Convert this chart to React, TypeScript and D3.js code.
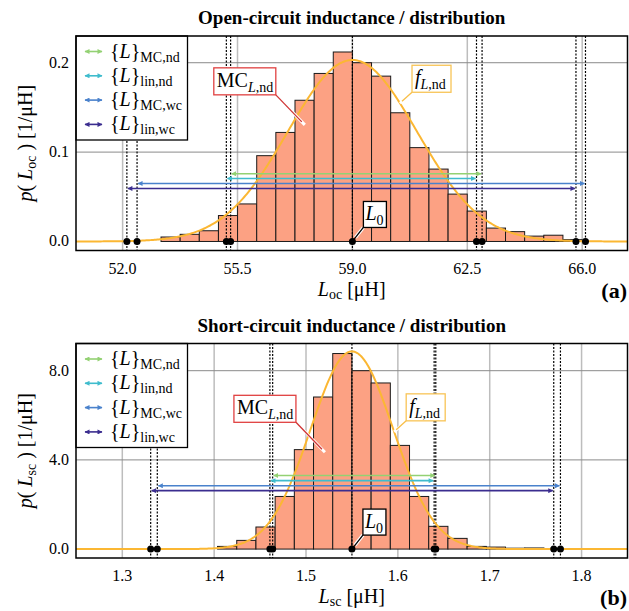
import * as d3 from "d3";

// ---- data ----
// open-circuit inductance histogram (density, 1/uH)
const ocBinStart = 53.17;
const ocBinWidth = 0.583;
const ocDensity = [
  0.005, 0.008, 0.012, 0.029, 0.042, 0.096, 0.122, 0.158, 0.188, 0.212, 0.2,
  0.185, 0.144, 0.105, 0.081, 0.053, 0.034, 0.015, 0.011, 0.006, 0.007, 0.002,
];
// short-circuit inductance histogram
const scBinStart = 1.4037;
const scBinWidth = 0.0209;
const scDensity = [
  0.12, 0.39, 0.99, 2.36, 4.46, 6.82, 8.77, 8.0, 7.45, 4.65, 2.36, 1.02, 0.48,
  0.12, 0.09, 0.04, 0.05,
];

// fitted normal distributions f_L,nd
const ocFit = { mean: 59.0, sd: 1.965 };
const scFit = { mean: 1.55, sd: 0.045 };

const ocL0 = 59.0;
const scL0 = 1.55;

// intervals {L}: MC,nd / lin,nd / MC,wc / lin,wc
const intervalNames = ["MC,nd", "lin,nd", "MC,wc", "lin,wc"];
const ocIntervals = [
  [55.29, 62.95],
  [55.16, 62.78],
  [52.44, 66.1],
  [52.13, 65.81],
];
const scIntervals = [
  [1.4637, 1.6413],
  [1.4607, 1.6395],
  [1.3381, 1.777],
  [1.3309, 1.7697],
];
const ocArrowLevels = [0.0757, 0.0705, 0.0649, 0.0593];
const scArrowLevels = [3.3, 3.07, 2.84, 2.62];

const ocTicksX = [52.0, 55.5, 59.0, 62.5, 66.0];
const ocTicksY = [0.0, 0.1, 0.2];
const scTicksX = [1.3, 1.4, 1.5, 1.6, 1.7, 1.8];
const scTicksY = [0.0, 4.0, 8.0];

const intervalColors = ["#93d173", "#3fbccd", "#4a82cc", "#3b2d8f"];
const FONT = "'Liberation Serif', 'Times New Roman', serif";

const margin = { left: 76, right: 627.5 };
const panelH = 214.5;

function normalPdf(x: number, m: number, s: number) {
  return Math.exp(-((x - m) ** 2) / (2 * s * s)) / (s * Math.sqrt(2 * Math.PI));
}

function Sub({ main, sub, italicMain, size = 20, subSize = 14 }: any) {
  // sub is a list of [text, italic]
  return (
    <>
      <tspan fontStyle={italicMain ? "italic" : "normal"} fontSize={size}>
        {main}
      </tspan>
      {sub.map((s: any, i: number) => (
        <tspan
          key={i}
          fontSize={subSize}
          fontStyle={s[1] ? "italic" : "normal"}
          dy={i === 0 ? 5 : 0}
        >
          {s[0]}
        </tspan>
      ))}
    </>
  );
}

function Panel(props: any) {
  const {
    top, title, xDomain, yDomain, binStart, binWidth, density, fit, L0,
    intervals, levels, ticksX, ticksY, fmtX, fmtY, xLabelSub, yLabelSub, tag,
    mcAnchor, fAnchor, id,
  } = props;
  const bottom = top + panelH;
  const x = d3.scaleLinear().domain(xDomain).range([margin.left, margin.right]);
  const y = d3.scaleLinear().domain(yDomain).range([bottom, top]);
  const w = margin.right - margin.left;

  const curvePts = d3.range(xDomain[0], xDomain[1], (xDomain[1] - xDomain[0]) / 400)
    .concat([xDomain[1]])
    .map((v) => [v, normalPdf(v, fit.mean, fit.sd)]);
  const line = d3.line<number[]>().x((d) => x(d[0])).y((d) => y(d[1]));

  const markers = intervals.flat();
  const midX = (margin.left + margin.right) / 2;

  const mcPx = [x(mcAnchor[0]), y(mcAnchor[1])];
  const fPx = [x(fAnchor), y(normalPdf(fAnchor, fit.mean, fit.sd))];
  const l0Px = [x(L0), y(0)];

  return (
    <g>
      <defs>
        <clipPath id={`clip-${id}`}>
          <rect x={margin.left} y={top} width={w} height={panelH} />
        </clipPath>
        {intervalColors.map((c, i) => (
          <marker
            key={i}
            id={`arr-${id}-${i}`}
            viewBox="0 0 10 10"
            refX={9}
            refY={5}
            markerWidth={5.5}
            markerHeight={5}
            markerUnits="userSpaceOnUse"
            orient="auto-start-reverse"
          >
            <path d="M0,0 L10,5 L0,10 z" fill={c} />
          </marker>
        ))}
      </defs>
      <text x={midX} y={top - 12} textAnchor="middle" fontFamily={FONT} fontWeight="bold" fontSize={19}>
        {title}
      </text>
      <rect x={margin.left} y={top} width={w} height={panelH} fill="#fff" />
      <g clipPath={`url(#clip-${id})`}>
        {ticksX.map((t: number) => (
          <line key={t} x1={x(t)} x2={x(t)} y1={top} y2={bottom} stroke="#bdbdbd" strokeWidth={1.5} />
        ))}
        {ticksY.filter((t: number) => t !== 0).map((t: number) => (
          <line key={t} x1={margin.left} x2={margin.right} y1={y(t)} y2={y(t)} stroke="#8a8a8a" strokeWidth={1} />
        ))}
        {density.map((d: number, i: number) => {
          const x0 = x(binStart + i * binWidth);
          const x1 = x(binStart + (i + 1) * binWidth);
          return (
            <rect key={i} x={x0} y={y(d)} width={x1 - x0} height={y(0) - y(d)}
              fill="#fca183" stroke="#1a1a1a" strokeWidth={1} />
          );
        })}
        {markers.map((m: number, i: number) => (
          <line key={i} x1={x(m)} x2={x(m)} y1={top} y2={bottom} stroke="#000" strokeWidth={1.2} strokeDasharray="2,1.5" />
        ))}
        <line x1={x(L0)} x2={x(L0)} y1={top} y2={bottom} stroke="#000" strokeWidth={1.2} strokeDasharray="2,1.5" />
        <path d={line(curvePts as any) || ""} fill="none" stroke="#fbb733" strokeWidth={2} />
        {intervals.map((iv: number[], i: number) => (
          <line key={i} x1={x(iv[0]) + 1} x2={x(iv[1]) - 1} y1={y(levels[i])} y2={y(levels[i])}
            stroke={intervalColors[i]} strokeWidth={1.6}
            markerStart={`url(#arr-${id}-${i})`} markerEnd={`url(#arr-${id}-${i})`} />
        ))}
      </g>

      {/* annotations */}
      <line x1={mcPx[0] - 29} y1={mcPx[1] - 30} x2={mcPx[0]} y2={mcPx[1]} stroke="#fff" strokeWidth={3} />
      <line x1={mcPx[0] - 29} y1={mcPx[1] - 30} x2={mcPx[0] - 3} y2={mcPx[1] - 3} stroke="#cf3434" strokeWidth={1.3} />
      <rect x={mcPx[0] - 91} y={mcPx[1] - 57} width={62} height={27} fill="#fff" stroke="#e04040" strokeWidth={1.3} />
      <text x={mcPx[0] - 88} y={mcPx[1] - 38} fontFamily={FONT}>
        <Sub main="MC" sub={[["L", true], [",nd", false]]} />
      </text>

      <line x1={fPx[0] + 12} y1={fPx[1] - 11} x2={fPx[0]} y2={fPx[1]} stroke="#fff" strokeWidth={3} />
      <line x1={fPx[0] + 12} y1={fPx[1] - 11} x2={fPx[0] + 2} y2={fPx[1] - 2} stroke="#f8bf48" strokeWidth={1.3} />
      <rect x={fPx[0] + 12} y={fPx[1] - 38} width={39} height={27} fill="#fff" stroke="#f8c456" strokeWidth={1.3} />
      <text x={fPx[0] + 15} y={fPx[1] - 19} fontFamily={FONT}>
        <Sub main="f" italicMain sub={[["L", true], [",nd", false]]} />
      </text>

      <line x1={l0Px[0] + 3} y1={l0Px[1] - 4} x2={l0Px[0] + 11} y2={l0Px[1] - 14} stroke="#fff" strokeWidth={3.5} />
      <line x1={l0Px[0]} y1={l0Px[1]} x2={l0Px[0] + 11} y2={l0Px[1] - 14} stroke="#000" strokeWidth={1.3} />
      <rect x={l0Px[0] + 11} y={l0Px[1] - 40} width={23} height={26} fill="#fff" stroke="#000" strokeWidth={1.3} />
      <text x={l0Px[0] + 13} y={l0Px[1] - 21} fontFamily={FONT}>
        <Sub main="L" italicMain sub={[["0", false]]} />
      </text>

      <g clipPath={`url(#clip-${id})`}>
        {markers.concat([L0]).map((m: number, i: number) => (
          <circle key={i} cx={x(m)} cy={y(0)} r={3.5} fill="#000" />
        ))}
      </g>

      {/* legend */}
      <rect x={margin.left} y={top} width={111.5} height={104} fill="#fff" stroke="#000" strokeWidth={1.3} />
      {intervalNames.map((n, i) => {
        const yy = top + 15.5 + i * 24.3;
        return (
          <g key={n}>
            <line x1={85} x2={102} y1={yy} y2={yy} stroke={intervalColors[i]} strokeWidth={1.6}
              markerStart={`url(#arr-${id}-${i})`} markerEnd={`url(#arr-${id}-${i})`} />
            <text x={110} y={yy + 6} fontFamily={FONT} fontSize={20}>
              <tspan>{"{"}</tspan>
              <tspan fontStyle="italic">L</tspan>
              <tspan>{"}"}</tspan>
              <tspan fontSize={14} dy={4}>{n}</tspan>
            </text>
          </g>
        );
      })}

      <rect x={margin.left} y={top} width={w} height={panelH} fill="none" stroke="#000" strokeWidth={1.5} />

      {/* axes labels */}
      {ticksX.map((t: number) => (
        <text key={t} x={x(t)} y={bottom + 23} textAnchor="middle" fontFamily={FONT} fontSize={16}>
          {fmtX(t)}
        </text>
      ))}
      {ticksY.map((t: number) => (
        <text key={t} x={69} y={y(t) + 5} textAnchor="end" fontFamily={FONT} fontSize={16}>
          {fmtY(t)}
        </text>
      ))}
      <text x={midX} y={bottom + 45} textAnchor="middle" fontFamily={FONT} fontSize={20}>
        <tspan fontStyle="italic">L</tspan>
        <tspan fontSize={14} dy={3}>{xLabelSub}</tspan>
        <tspan dy={-3}> [μH]</tspan>
      </text>
      <text x={627} y={bottom + 47} textAnchor="end" fontFamily={FONT} fontSize={22} fontWeight="bold">
        {tag}
      </text>
      <text transform={`translate(32,${(top + bottom) / 2}) rotate(-90)`} textAnchor="middle" fontFamily={FONT} fontSize={20}>
        <tspan fontStyle="italic">p</tspan>
        <tspan>( </tspan>
        <tspan fontStyle="italic">L</tspan>
        <tspan fontSize={14} dy={4}>{yLabelSub}</tspan>
        <tspan dy={-4}> ) [1/μH]</tspan>
      </text>
    </g>
  );
}

export default function App() {
  return (
    <svg width={629} height={611} style={{ position: "absolute", left: 0, top: 0, background: "#fff" }}>
      <rect width={629} height={611} fill="#fff" />
      <Panel
        id="oc"
        top={36}
        title="Open-circuit inductance / distribution"
        xDomain={[50.58, 67.38]}
        yDomain={[-0.0101, 0.2299]}
        binStart={ocBinStart}
        binWidth={ocBinWidth}
        density={ocDensity}
        fit={ocFit}
        L0={ocL0}
        intervals={ocIntervals}
        levels={ocArrowLevels}
        ticksX={ocTicksX}
        ticksY={ocTicksY}
        fmtX={d3.format(".1f")}
        fmtY={d3.format(".1f")}
        xLabelSub="oc"
        yLabelSub="oc"
        tag="(a)"
        mcAnchor={[57.55, 0.1305]}
        fAnchor={60.45}
      />
      <Panel
        id="sc"
        top={343.5}
        title="Short-circuit inductance / distribution"
        xDomain={[1.2496, 1.85]}
        yDomain={[-0.4, 9.22]}
        binStart={scBinStart}
        binWidth={scBinWidth}
        density={scDensity}
        fit={scFit}
        L0={scL0}
        intervals={scIntervals}
        levels={scArrowLevels}
        ticksX={scTicksX}
        ticksY={scTicksY}
        fmtX={d3.format(".1f")}
        fmtY={d3.format(".1f")}
        xLabelSub="sc"
        yLabelSub="sc"
        tag="(b)"
        mcAnchor={[1.5206, 4.34]}
        fAnchor={1.596}
      />
    </svg>
  );
}
